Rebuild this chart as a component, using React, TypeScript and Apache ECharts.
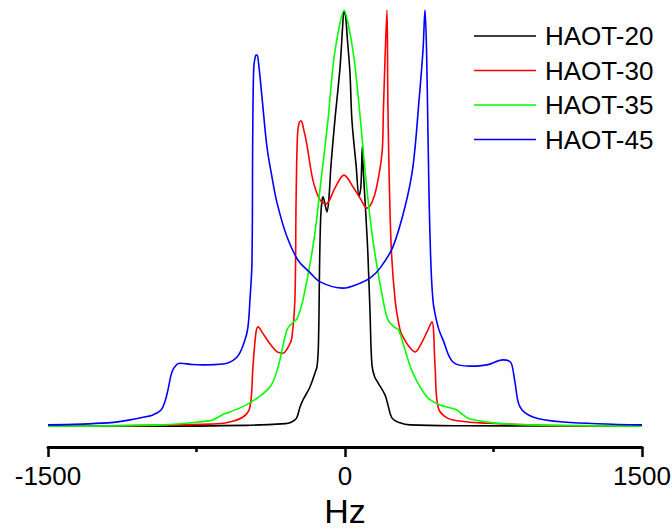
import React, { useEffect, useRef } from "react";
import * as echarts from "echarts";

const seriesNames = ["HAOT-20", "HAOT-30", "HAOT-35", "HAOT-45"];
const seriesColors = ["#000000", "#ff0000", "#00ff00", "#0000ff"];
const xTicks = [-1500, 0, 1500];

const haot20: [number, number][] = [
  [-1500, 0.002], [-1000, 0.002], [-500, 0.004], [-300, 0.008], [-278, 0.01], [-253, 0.017],
  [-242, 0.024], [-227, 0.048], [-212, 0.065], [-177, 0.096], [-152, 0.129], [-141, 0.146],
  [-134, 0.2], [-128, 0.4], [-123, 0.5], [-117, 0.54], [-111, 0.552], [-106, 0.545],
  [-98, 0.528], [-91, 0.516], [-81, 0.55], [-71, 0.626], [-51, 0.736], [-25, 0.863],
  [-12, 0.96], [-5, 0.998], [3, 0.985], [12, 0.93], [25, 0.85], [35, 0.736],
  [56, 0.628], [71, 0.554], [80, 0.575], [88, 0.676], [92, 0.62], [101, 0.544],
  [111, 0.46], [116, 0.41], [126, 0.281], [136, 0.149], [150, 0.12], [167, 0.106],
  [202, 0.077], [217, 0.053], [237, 0.022], [278, 0.01], [328, 0.005], [600, 0.003], [1500, 0.002],
];

const haot30: [number, number][] = [
  [-1500, 0.002], [-1000, 0.004], [-682, 0.007], [-600, 0.01], [-515, 0.024], [-480, 0.048],
  [-465, 0.144], [-450, 0.225], [-439, 0.24], [-414, 0.224], [-380, 0.2], [-343, 0.18],
  [-313, 0.177], [-283, 0.195], [-268, 0.215], [-253, 0.305], [-247, 0.544], [-240, 0.7],
  [-232, 0.729], [-222, 0.734], [-207, 0.71], [-192, 0.676], [-162, 0.592], [-126, 0.544],
  [-96, 0.535], [-51, 0.573], [-5, 0.604], [40, 0.576], [76, 0.549], [111, 0.525],
  [137, 0.54], [160, 0.576], [187, 0.657], [194, 0.76], [202, 0.88], [212, 1.0],
  [217, 0.76], [232, 0.448], [253, 0.305], [278, 0.233], [293, 0.216], [320, 0.195],
  [354, 0.18], [385, 0.2], [414, 0.228], [439, 0.252], [455, 0.144], [470, 0.048],
  [515, 0.022], [600, 0.013], [682, 0.01], [1000, 0.004], [1500, 0.002],
];

const haot35: [number, number][] = [
  [-1500, 0.002], [-919, 0.005], [-700, 0.014], [-667, 0.017], [-621, 0.029], [-581, 0.036],
  [-480, 0.058], [-379, 0.096], [-338, 0.144], [-293, 0.233], [-265, 0.25], [-242, 0.26],
  [-212, 0.305], [-157, 0.448], [-121, 0.592], [-86, 0.736], [-61, 0.863], [-35, 0.945],
  [-5, 0.998], [25, 0.945], [51, 0.863], [78, 0.736], [106, 0.592], [141, 0.448],
  [192, 0.305], [217, 0.257], [247, 0.24], [270, 0.233], [300, 0.19], [343, 0.129],
  [414, 0.072], [480, 0.053], [560, 0.042], [596, 0.029], [631, 0.019], [750, 0.01],
  [934, 0.005], [1500, 0.002],
];

const haot45: [number, number][] = [
  [-1500, 0.005], [-1200, 0.01], [-1086, 0.017], [-1000, 0.025], [-970, 0.029], [-930, 0.04],
  [-910, 0.06], [-894, 0.089], [-874, 0.132], [-850, 0.15], [-833, 0.153], [-770, 0.15],
  [-717, 0.149], [-616, 0.151], [-545, 0.168], [-505, 0.209], [-490, 0.24], [-480, 0.305],
  [-470, 0.393], [-466, 0.7], [-461, 0.86], [-452, 0.89], [-444, 0.892], [-436, 0.87],
  [-419, 0.79], [-394, 0.671], [-369, 0.6], [-343, 0.537], [-293, 0.456], [-237, 0.4],
  [-180, 0.372], [-126, 0.348], [-10, 0.333], [76, 0.345], [126, 0.357], [177, 0.381], [242, 0.432],
  [303, 0.528], [343, 0.624], [374, 0.784], [394, 0.904], [404, 1.0], [412, 0.9],
  [419, 0.705], [429, 0.465], [444, 0.305], [470, 0.24], [495, 0.209], [545, 0.156],
  [631, 0.146], [717, 0.149], [798, 0.161], [830, 0.158], [843, 0.149], [859, 0.106],
  [884, 0.048], [949, 0.024], [1101, 0.012], [1500, 0.005],
];

const seriesData = [haot20, haot30, haot35, haot45];

export default function App() {
  const ref = useRef<HTMLDivElement>(null);
  useEffect(() => {
    document.body.style.margin = "0";
    const chart = echarts.init(ref.current!, null, { renderer: "svg" });
    const font = "'Liberation Sans', Arial, sans-serif";
    chart.setOption({
      animation: false,
      backgroundColor: "#ffffff",
      grid: { left: 48, right: 30, top: 10, bottom: 102, containLabel: false, outerBoundsMode: "none" },
      legend: {
        orient: "vertical",
        left: 469,
        top: 18,
        itemWidth: 62,
        itemHeight: 1.5,
        itemGap: 8.5,
        icon: "rect",
        data: seriesNames,
        textStyle: {
          fontSize: 26,
          lineHeight: 26,
          color: "#000",
          fontFamily: font,
          padding: [0, 0, 0, 4],
        },
      },
      xAxis: {
        type: "value",
        min: -1500,
        max: 1500,
        interval: 1500,
        offset: 20,
        axisLine: { show: true, onZero: false, lineStyle: { color: "#000", width: 3 } },
        axisTick: { show: true, length: 10, lineStyle: { color: "#000", width: 2.5 } },
        minorTick: { show: true, splitNumber: 2, length: 5, lineStyle: { color: "#000", width: 2.5 } },
        splitLine: { show: false },
        axisLabel: {
          fontSize: 26,
          color: "#000",
          fontFamily: font,
          margin: 16,
          formatter: (v: number) => (xTicks.includes(v) ? String(v) : ""),
        },
        name: "Hz",
        nameLocation: "middle",
        nameGap: 44,
        nameTextStyle: { fontSize: 34, lineHeight: 34, color: "#000", fontFamily: font },
      },
      yAxis: { type: "value", min: 0, max: 1, show: false },
      series: seriesNames.map((name, i) => ({
        name,
        type: "line",
        data: seriesData[i],
        symbol: "none",
        smooth: 0.35,
        clip: true,
        lineStyle: { color: seriesColors[i], width: 1.6 },
        itemStyle: { color: seriesColors[i] },
      })),
    });
    return () => chart.dispose();
  }, []);
  return <div ref={ref} style={{ width: 672, height: 529 }} />;
}
